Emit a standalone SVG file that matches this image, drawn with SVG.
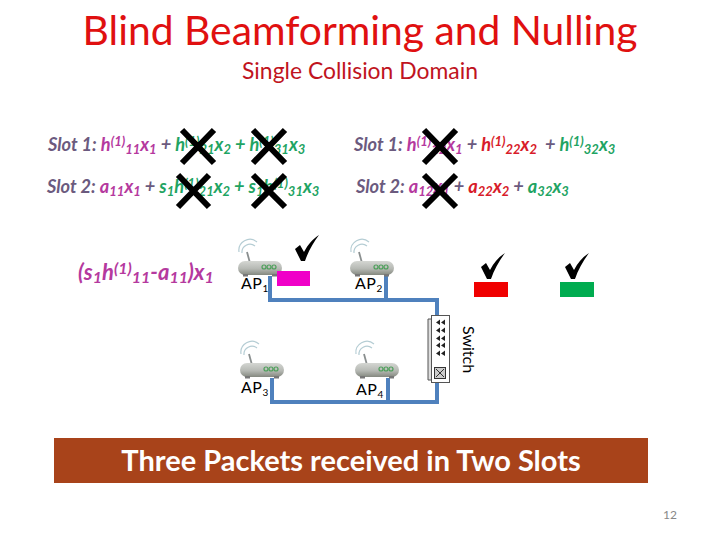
<svg xmlns="http://www.w3.org/2000/svg" width="720" height="540" viewBox="0 0 720 540">
<defs>
<style>
text{font-family:Lato,"Open Sans",sans-serif}
.eq{font-size:18.200px;font-style:italic;font-weight:700}
.g{fill:#6b5a7e}.m{fill:#b5399e}.t{fill:#1fa463}.r{fill:#d81c2a}
.s{font-size:13px}
.ap{font-size:16px;fill:#000;letter-spacing:.5px}
.w{fill:none;stroke:#4f81bd;stroke-width:4}
.x{stroke:#000;stroke-width:6}
</style>
<linearGradient id="body" x1="0" y1="0" x2="0" y2="1"><stop offset="0" stop-color="#d4d6d2"/><stop offset="0.55" stop-color="#b6b9b4"/><stop offset="1" stop-color="#84887f"/></linearGradient>
<g id="r">
<path d="M1 13A11 11 0 0 1 19 3M4 14A8 8 0 0 1 17 7" fill="none" stroke="#b5cdd4" stroke-width="1.200"/>
<path d="M9 13L12 24" stroke="#8a8f8f" stroke-width="1.800"/>
<rect x="0" y="22" width="44" height="14" rx="7" fill="url(#body)"/>
<rect x="5" y="35" width="5" height="2.500" fill="#777"/><rect x="34" y="35" width="5" height="2.500" fill="#777"/>
<g fill="none" stroke="#4d9f5a" stroke-width="1.200"><circle cx="26" cy="28" r="2"/><circle cx="31" cy="28" r="2"/><circle cx="36" cy="28" r="2"/></g>
</g>
<path id="ck" fill="#000" d="M0 14L5 10L9 17C13 9 18 4 24 0C18 8 13 17 10 26L6 26Z"/>
<path id="port" fill="#222" d="M0 1.500L4 -1.500V4ZM5 1.500L9 -1.500V4Z"/>
</defs>
<rect width="720" height="540" fill="#fff"/>
<text x="360" y="45" text-anchor="middle" font-size="40.800" fill="#e01010">Blind Beamforming and Nulling</text>
<text x="360" y="79" text-anchor="middle" font-size="22.900" fill="#c0141e">Single Collision Domain</text>

<g id="equations">
<text class="eq g" x="48" y="151">Slot 1: <tspan class="m">h<tspan class="s" dy="-5">(1)</tspan><tspan class="s" dy="8">11</tspan><tspan dy="-3">x</tspan><tspan class="s" dy="3">1</tspan></tspan><tspan dy="-3"> + </tspan><tspan class="t">h<tspan class="s" dy="-5">(1)</tspan><tspan class="s" dy="8">21</tspan><tspan dy="-3">x</tspan><tspan class="s" dy="3">2</tspan><tspan dy="-3"> + h</tspan><tspan class="s" dy="-5">(1)</tspan><tspan class="s" dy="8">31</tspan><tspan dy="-3">x</tspan><tspan class="s" dy="3">3</tspan></tspan></text>
<text class="eq g" x="47" y="193">Slot 2: <tspan class="m">a<tspan class="s" dy="3">11</tspan><tspan dy="-3">x</tspan><tspan class="s" dy="3">1</tspan></tspan><tspan dy="-3"> + </tspan><tspan class="t">s<tspan class="s" dy="3">1</tspan><tspan dy="-3">h</tspan><tspan class="s" dy="-5">(1)</tspan><tspan class="s" dy="8">21</tspan><tspan dy="-3">x</tspan><tspan class="s" dy="3">2</tspan><tspan dy="-3"> + s</tspan><tspan class="s" dy="3">1</tspan><tspan dy="-3">h</tspan><tspan class="s" dy="-5">(1)</tspan><tspan class="s" dy="8">31</tspan><tspan dy="-3">x</tspan><tspan class="s" dy="3">3</tspan></tspan></text>
<text class="eq g" x="354" y="151">Slot 1: <tspan class="m">h<tspan class="s" dy="-5">(1)</tspan><tspan class="s" dy="8">12</tspan><tspan dy="-3">x</tspan><tspan class="s" dy="3">1</tspan></tspan><tspan dy="-3"> + </tspan><tspan class="r">h<tspan class="s" dy="-5">(1)</tspan><tspan class="s" dy="8">22</tspan><tspan dy="-3">x</tspan><tspan class="s" dy="3">2</tspan></tspan><tspan dy="-3" xml:space="preserve">  + </tspan><tspan class="t">h<tspan class="s" dy="-5">(1)</tspan><tspan class="s" dy="8">32</tspan><tspan dy="-3">x</tspan><tspan class="s" dy="3">3</tspan></tspan></text>
<text class="eq g" x="356" y="193">Slot 2: <tspan class="m">a<tspan class="s" dy="3">12</tspan><tspan dy="-3">x</tspan><tspan class="s" dy="3">1</tspan></tspan><tspan dy="-3"> + </tspan><tspan class="r">a<tspan class="s" dy="3">22</tspan><tspan dy="-3">x</tspan><tspan class="s" dy="3">2</tspan></tspan><tspan dy="-3"> + </tspan><tspan class="t">a<tspan class="s" dy="3">32</tspan><tspan dy="-3">x</tspan><tspan class="s" dy="3">3</tspan></tspan></text>
<text class="m" x="78" y="280" font-size="22" font-style="italic" font-weight="700">(s<tspan font-size="16" dy="3">1</tspan><tspan dy="-3">h</tspan><tspan font-size="16" dy="-6">(1)</tspan><tspan font-size="16" dy="9">11</tspan><tspan dy="-3">-a</tspan><tspan font-size="16" dy="3">11</tspan><tspan dy="-3">)x</tspan><tspan font-size="16" dy="3">1</tspan></text>
</g>

<g id="crosses">
<path class="x" d="M182 130L214 163M214 130L182 163"/>
<path class="x" d="M253 130L285 163M285 130L253 163"/>
<path class="x" d="M178 175L209 207M209 175L178 207"/>
<path class="x" d="M253 175L285 207M285 175L253 207"/>
<path class="x" d="M424 130L456 163M456 130L424 163"/>
<path class="x" d="M424 175L456 207M456 175L424 207"/>
</g>

<g id="connectors">
<path class="w" d="M270 276V300H437V316"/>
<path class="w" d="M386 276V300"/>
<path class="w" d="M272 378V402H437V383"/>
<path class="w" d="M388 378V402"/>
</g>

<g id="ap1"><use href="#r" x="238" y="239"/><text class="ap" x="241" y="289">AP<tspan font-size="10" dy="3">1</tspan></text></g>
<g id="ap2"><use href="#r" x="350" y="239"/><text class="ap" x="355" y="289">AP<tspan font-size="10" dy="3">2</tspan></text></g>
<g id="ap3"><use href="#r" x="240" y="341"/><text class="ap" x="241" y="393">AP<tspan font-size="10" dy="3">3</tspan></text></g>
<g id="ap4"><use href="#r" x="355" y="341"/><text class="ap" x="356" y="395">AP<tspan font-size="10" dy="3">4</tspan></text></g>

<g id="switch">
<path d="M431 319H428V380H431" fill="#ddd" stroke="#555"/>
<rect x="431.500" y="315.500" width="18" height="67" fill="#fff" stroke="#555"/>
<use href="#port" x="436" y="321"/><use href="#port" x="436" y="329"/><use href="#port" x="436" y="337"/><use href="#port" x="436" y="344"/><use href="#port" x="436" y="352"/>
<rect x="434.500" y="367.500" width="11" height="11" fill="#ccc" stroke="#333"/>
<path d="M436 369L444 377M444 369L436 377" stroke="#333"/>
<text transform="translate(463,326) rotate(90)" font-size="16" fill="#000">Switch</text>
</g>

<g id="packets">
<rect x="277" y="271" width="33" height="15" fill="#f000c8"/>
<rect x="474" y="282" width="34" height="15" fill="#f00000"/>
<rect x="560" y="282" width="34" height="15" fill="#00ac50"/>
<use href="#ck" x="295" y="235"/>
<use href="#ck" x="481" y="253"/>
<use href="#ck" x="565" y="253"/>
</g>

<g id="banner">
<rect x="54" y="438" width="594" height="45" fill="#a8431a"/>
<text x="351" y="471" text-anchor="middle" font-size="29" font-weight="700" fill="#fff">Three Packets received in Two Slots</text>
</g>
<text x="670" y="519" text-anchor="middle" font-size="12" fill="#888">12</text>
</svg>
